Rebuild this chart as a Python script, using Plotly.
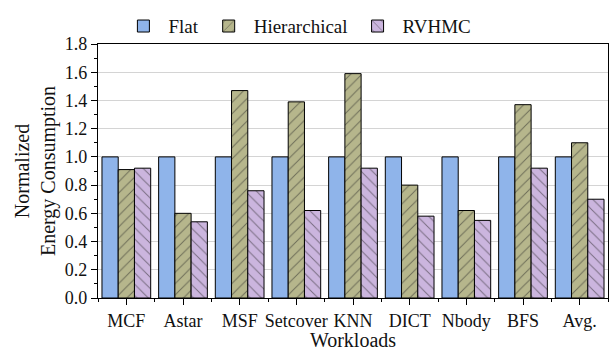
import plotly.graph_objects as go

categories = ["MCF", "Astar", "MSF", "Setcover", "KNN", "DICT", "Nbody", "BFS", "Avg."]
flat = [1.0, 1.0, 1.0, 1.0, 1.0, 1.0, 1.0, 1.0, 1.0]
hierarchical = [0.91, 0.60, 1.47, 1.39, 1.59, 0.80, 0.62, 1.37, 1.10]
rvhmc = [0.92, 0.54, 0.76, 0.62, 0.92, 0.58, 0.55, 0.92, 0.70]
y_ticks = [0.0, 0.2, 0.4, 0.6, 0.8, 1.0, 1.2, 1.4, 1.6, 1.8]

xpos = list(range(len(categories)))
FONT = "Liberation Serif"

fig = go.Figure()
fig.add_trace(go.Bar(name="Flat", x=xpos, y=flat,
                     marker=dict(color="#8fb4ea", line=dict(color="black", width=1))))
fig.add_trace(go.Bar(name="Hierarchical", x=xpos, y=hierarchical,
                     marker=dict(color="#b6b68c", line=dict(color="black", width=1),
                                 pattern=dict(shape="/", fillmode="overlay", fgcolor="#222",
                                              size=8, solidity=0.12))))
fig.add_trace(go.Bar(name="RVHMC", x=xpos, y=rvhmc,
                     marker=dict(color="#cbb5de", line=dict(color="black", width=1),
                                 pattern=dict(shape="\\", fillmode="overlay", fgcolor="#222",
                                              size=8, solidity=0.12))))

fig.update_layout(
    width=611, height=351,
    margin=dict(l=98, r=3, t=44, b=53),
    barmode="group", bargap=0.14, bargroupgap=0,
    plot_bgcolor="white", paper_bgcolor="white",
    font=dict(family=FONT, size=18, color="#111"),
    legend=dict(orientation="h", x=0.04, xanchor="left", y=1.145, yanchor="top",
                font=dict(family=FONT, size=19, color="#111"), itemwidth=40,
                bgcolor="rgba(0,0,0,0)"),
    showlegend=True,
)
fig.update_xaxes(
    range=[-0.5, len(categories) - 0.5],
    tickvals=xpos, ticktext=categories,
    showline=True, linecolor="black", linewidth=1.2, mirror=True,
    ticks="outside", ticklen=6, tickcolor="black",
    minor=dict(ticks="outside", ticklen=3, tickcolor="black", dtick=1, tick0=0.5),
    showgrid=False, zeroline=False,
    tickfont=dict(family=FONT, size=18, color="#111"),
    title=dict(text="Workloads", font=dict(family=FONT, size=20, color="#111"), standoff=2),
)
fig.update_yaxes(
    range=[0, 1.8], tickvals=y_ticks, ticktext=[f"{v:.1f}" for v in y_ticks],
    showline=True, linecolor="black", linewidth=1.2, mirror=True,
    ticks="outside", ticklen=6, tickcolor="black",
    minor=dict(ticks="outside", ticklen=3, tickcolor="black", dtick=0.1, showgrid=False),
    showgrid=True, gridcolor="#d4d4d4", gridwidth=1, zeroline=False,
    tickfont=dict(family=FONT, size=18, color="#111"),
    title=dict(text="Normalized<br>Energy Consumption",
               font=dict(family=FONT, size=20, color="#111"), standoff=3),
)

fig.write_html("out.html", config={"displayModeBar": False},
               post_script="document.body.style.margin='0';document.body.style.padding='0';")
